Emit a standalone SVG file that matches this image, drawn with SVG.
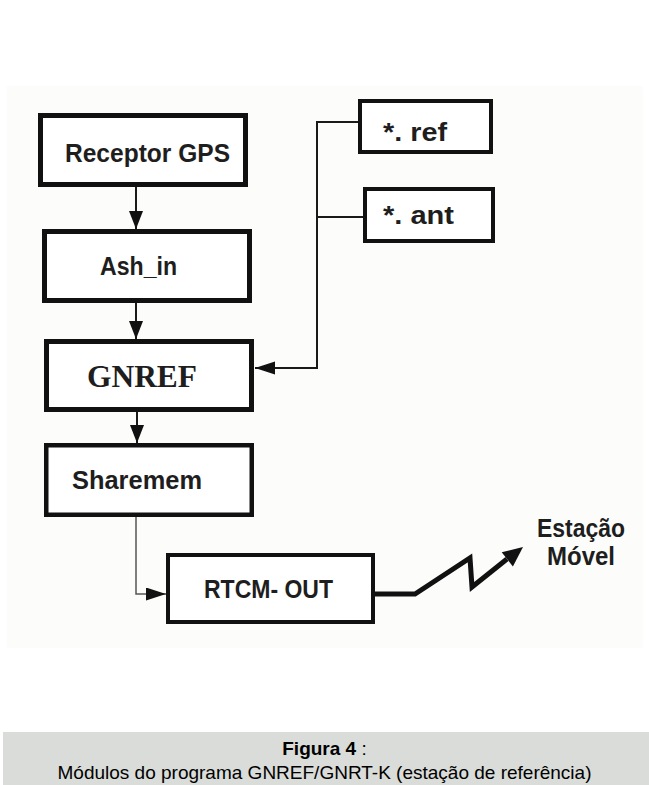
<svg xmlns="http://www.w3.org/2000/svg" width="649" height="785" viewBox="0 0 649 785">
<style>
.box{fill:#fff;stroke:#111;}
.lbl{font-family:"Liberation Sans",Arial,sans-serif;font-weight:bold;font-size:26px;fill:#1e1e1e;}
.ser{font-family:"Liberation Serif","Times New Roman",serif;font-weight:bold;font-size:31px;fill:#1e1e1e;}
.con{fill:none;stroke:#1a1a1a;stroke-width:2;}
.thin{fill:none;stroke:#555;stroke-width:1.5;}
.cap{font-family:"Liberation Sans",Arial,sans-serif;font-size:19px;fill:#000;}
</style>
<defs>
<marker id="ah" markerUnits="userSpaceOnUse" markerWidth="20" markerHeight="16" refX="18" refY="7" orient="auto">
<path d="M0,0 L18,7 L0,14 z" fill="#111"/>
</marker>
<marker id="ahs" markerUnits="userSpaceOnUse" markerWidth="22" markerHeight="16" refX="20" refY="6.5" orient="auto">
<path d="M0,0 L20,6.5 L0,13 z" fill="#111"/>
</marker>
</defs>
<rect x="7" y="86" width="636" height="562" fill="#fcfdfb"/>
<rect x="3" y="732" width="646" height="53" fill="#d9dcd9"/>
<g id="connectors">
<line class="con" x1="136" y1="187" x2="136" y2="229" marker-end="url(#ah)"/>
<line class="con" x1="136" y1="303" x2="136" y2="339" marker-end="url(#ah)"/>
<line class="con" x1="137" y1="412" x2="137" y2="443" marker-end="url(#ah)"/>
<polyline class="con" points="358,122 317,122 317,368 255,368" marker-end="url(#ahs)"/>
<line class="con" x1="317" y1="217" x2="363" y2="217"/>
<polyline class="thin" points="136,517 136,594 166,594" marker-end="url(#ahs)"/>
<polyline fill="none" stroke="#111" stroke-width="5" stroke-linejoin="miter" points="375,594 415,594 470,558 472,587 507,559"/>
<polygon points="523,547 512.9,566.4 501.7,552.2" fill="#111"/>
</g>
<g id="receptor">
<rect class="box" x="40.5" y="115.5" width="205" height="69" stroke-width="5"/>
<text class="lbl" x="65" y="162" textLength="165" lengthAdjust="spacingAndGlyphs">Receptor GPS</text>
</g>
<g id="ash_in">
<rect class="box" x="44.5" y="231.5" width="205" height="69" stroke-width="5"/>
<text class="lbl" x="100" y="275" textLength="77" lengthAdjust="spacingAndGlyphs">Ash_in</text>
</g>
<g id="gnref">
<rect class="box" x="46.5" y="341.5" width="205" height="68" stroke-width="5"/>
<text class="ser" x="87" y="387" textLength="110" lengthAdjust="spacingAndGlyphs">GNREF</text>
</g>
<g id="sharemem">
<rect class="box" x="46.25" y="445.25" width="205.5" height="69.5" stroke-width="4.5"/>
<text class="lbl" x="72" y="489" textLength="130" lengthAdjust="spacingAndGlyphs">Sharemem</text>
</g>
<g id="rtcm">
<rect class="box" x="168" y="555" width="205" height="67" stroke-width="4"/>
<text class="lbl" x="204" y="598" textLength="129" lengthAdjust="spacingAndGlyphs">RTCM- OUT</text>
</g>
<g id="ref">
<rect class="box" x="360" y="101" width="131" height="51" stroke-width="4"/>
<text class="lbl" x="383" y="141" textLength="64" lengthAdjust="spacingAndGlyphs">*. ref</text>
</g>
<g id="ant">
<rect class="box" x="365" y="189" width="128" height="52" stroke-width="4"/>
<text class="lbl" x="383" y="224" textLength="71" lengthAdjust="spacingAndGlyphs">*. ant</text>
</g>
<g id="estacao">
<text class="lbl" x="537" y="537" font-size="25" textLength="88" lengthAdjust="spacingAndGlyphs">Estação</text>
<text class="lbl" x="547" y="565" font-size="25" textLength="68" lengthAdjust="spacingAndGlyphs">Móvel</text>
</g>
<g id="caption">
<text class="cap" x="324.5" y="755" text-anchor="middle"><tspan font-weight="bold">Figura 4</tspan> :</text>
<text class="cap" x="324.5" y="779" text-anchor="middle">Módulos do programa GNREF/GNRT-K (estação de referência)</text>
</g>
</svg>
